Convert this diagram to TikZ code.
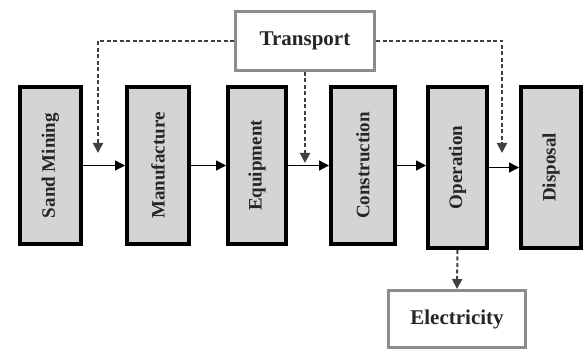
\documentclass[tikz,border=0pt]{standalone}
\usepackage{fontspec}
\setmainfont{Liberation Serif}
\usetikzlibrary{arrows.meta}
\begin{document}
\begin{tikzpicture}[x=1pt,y=-1pt,
  stage/.style={draw=black,line width=4pt,fill=black!17,rectangle,inner sep=0pt,
    minimum width=#1,minimum height=157pt,text=black!85},
  stage/.default=61pt,
  tallstage/.style={stage=#1,minimum height=161pt},
  outbox/.style={draw=black!45,line width=3pt,fill=white,rectangle,inner sep=0pt,
    minimum width=139pt,minimum height=59pt,text=black!85},
  lbl/.style={font=\fontsize{21}{24}\selectfont\bfseries},
  arr/.style={line width=1.5pt,-{Triangle[length=10pt,width=10pt]}},
  dsh/.style={line width=2pt,black!75,dash pattern=on 4pt off 2.5pt,
    -{Triangle[length=10pt,width=10pt]}}
]
\useasboundingbox (0,0) rectangle (586,352);
\node[stage=61pt] (sand) at (50.5,165.5) {\rotatebox{90}{\fontsize{19}{22}\selectfont\bfseries Sand Mining}};
\node[stage=62pt] (manu) at (158,165.5) {\rotatebox{90}{\fontsize{19}{22}\selectfont\bfseries Manufacture}};
\node[stage=58pt] (equi) at (257,165.5) {\rotatebox{90}{\fontsize{19}{22}\selectfont\bfseries Equipment}};
\node[stage=64pt] (cons) at (363,165.5) {\rotatebox{90}{\fontsize{19}{22}\selectfont\bfseries Construction}};
\node[tallstage=59pt] (oper) at (457.5,167.5) {\rotatebox{90}{\fontsize{19}{22}\selectfont\bfseries Operation}};
\node[tallstage=60pt] (disp) at (551,167.5) {\rotatebox{90}{\fontsize{19}{22}\selectfont\bfseries Disposal}};
\node[outbox,lbl] (trans) at (305,41) {Transport};
\node[outbox,lbl,minimum width=137pt,minimum height=57pt] (elec) at (457,319) {Electricity};
\draw[arr] (sand.east) -- (manu.west);
\draw[arr] (manu.east) -- (equi.west);
\draw[arr] (equi.east) -- (cons.west);
\draw[arr] (cons.east) -- (cons.east -| oper.west);
\draw[arr] (oper.east) -- (disp.west);
\coordinate (d1) at (98,153);
\coordinate (d2) at (305,163);
\coordinate (d3) at (502,153);
\draw[dsh] (trans.west) -| (d1);
\draw[dsh] (trans.south) -- (d2);
\draw[dsh] (trans.east) -| (d3);
\draw[dsh] (oper.south) -- (elec.north);
\end{tikzpicture}
\end{document}
